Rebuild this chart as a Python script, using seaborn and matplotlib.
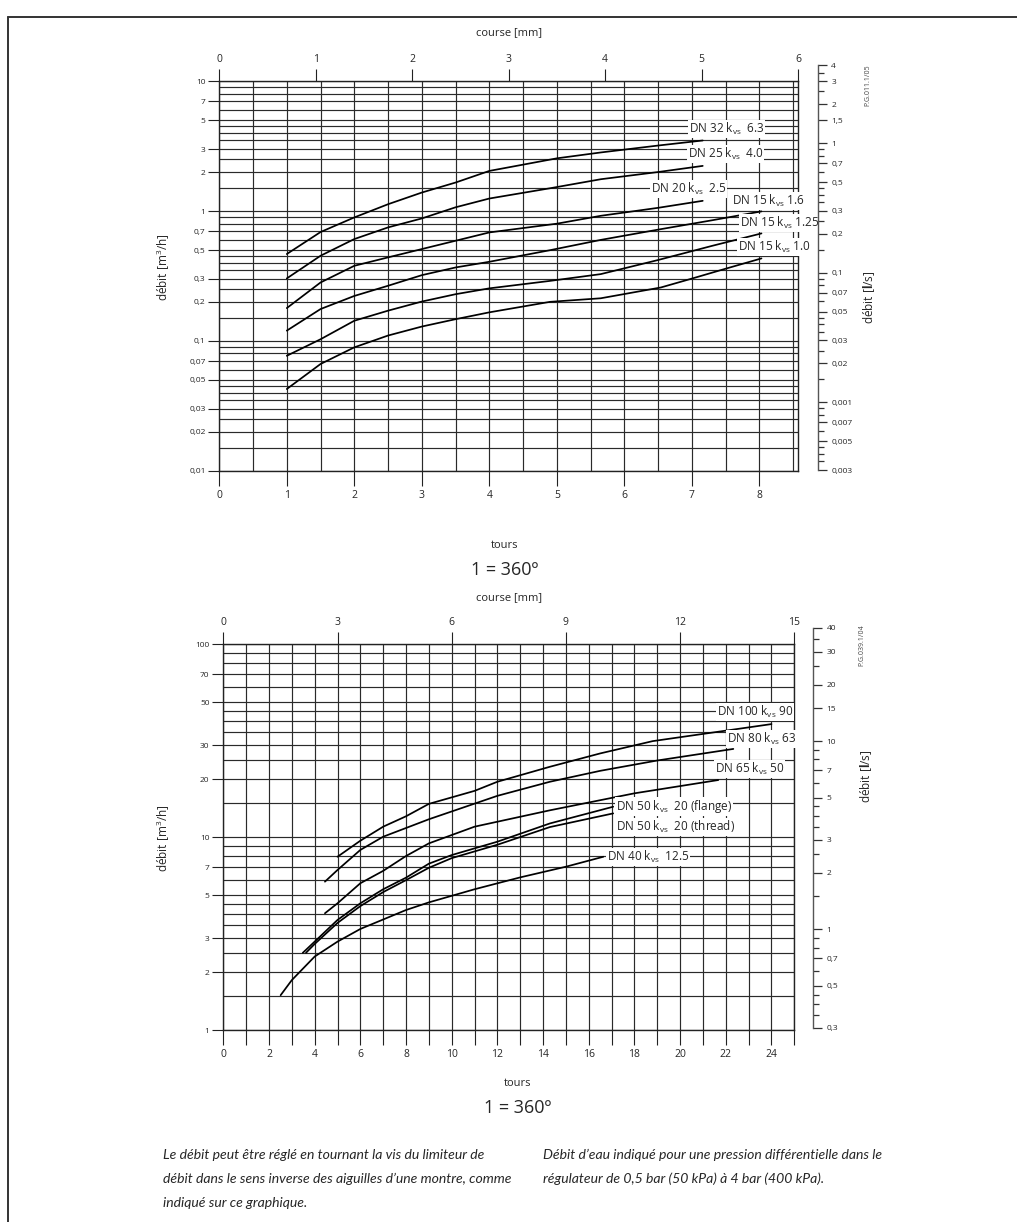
import numpy as np
import pandas as pd
import matplotlib.pyplot as plt
import matplotlib.ticker as mticker
from matplotlib.lines import Line2D
import seaborn as sns

# ---- top chart: DN 15 - DN 32, tours vs m3/h
dn32_t = [1, 1.5, 2, 2.5, 3, 3.5, 4, 4.5, 5, 5.65, 6.5, 7.16]
dn32_q = [0.467, 0.69, 0.894, 1.13, 1.39, 1.66, 2.04, 2.28, 2.55, 2.83, 3.2, 3.5]
dn25_t = [1, 1.5, 2, 2.5, 3, 3.5, 4, 4.9, 5.65, 6.5, 7.16]
dn25_q = [0.303, 0.453, 0.609, 0.749, 0.878, 1.07, 1.25, 1.5, 1.76, 2.0, 2.23]
dn20_t = [1, 1.5, 2, 2.5, 3, 4, 5, 5.65, 6.5, 7.16]
dn20_q = [0.179, 0.282, 0.379, 0.44, 0.51, 0.685, 0.8, 0.92, 1.06, 1.2]
dn15a_t = [1, 1.5, 2, 2.5, 3, 3.5, 4, 4.9, 5.65, 6.5, 7.3, 8.03]
dn15a_q = [0.12, 0.176, 0.222, 0.266, 0.321, 0.368, 0.407, 0.5, 0.6, 0.72, 0.85, 0.995]
dn15b_t = [1, 1.5, 2, 2.5, 3, 3.5, 4, 4.9, 5.65, 6.5, 7.3, 8.03]
dn15b_q = [0.0768, 0.103, 0.143, 0.171, 0.201, 0.229, 0.254, 0.29, 0.327, 0.42, 0.54, 0.673]
dn15c_t = [1, 1.5, 2, 2.5, 3, 3.5, 4, 4.9, 5.65, 6.54, 6.98, 7.5, 8.03]
dn15c_q = [0.0426, 0.0664, 0.0892, 0.11, 0.129, 0.147, 0.166, 0.2, 0.213, 0.258, 0.3, 0.36, 0.432]

top_labels = ['DN 32 k$_\\mathregular{vs}$  6.3', 'DN 25 k$_\\mathregular{vs}$  4.0',
              'DN 20 k$_\\mathregular{vs}$  2.5', 'DN 15 k$_\\mathregular{vs}$ 1.6',
              'DN 15 k$_\\mathregular{vs}$ 1.25', 'DN 15 k$_\\mathregular{vs}$ 1.0']
top_label_x = [6.95, 6.94, 6.39, 7.59, 7.71, 7.68]
top_label_y = [4.28, 2.75, 1.48, 1.194, 0.808, 0.528]

# ---- bottom chart: DN 40 - DN 100
dn100_t = [5, 6, 7, 8, 9, 11, 12, 14.3, 16.5, 18.8, 21.5, 24]
dn100_q = [7.93, 9.6, 11.35, 12.85, 14.9, 17.4, 19.4, 23.2, 27.2, 31.5, 35.0, 38.6]
dn80_t = [4.45, 5, 6, 7, 9, 12, 14.3, 16.5, 19, 22.33]
dn80_q = [5.89, 6.77, 8.6, 10.07, 12.4, 16.4, 19.4, 22.1, 25.0, 28.7]
dn65_t = [4.45, 5, 6, 7, 8, 9, 11, 14.3, 18, 21.67]
dn65_q = [4.04, 4.55, 5.78, 6.7, 8.0, 9.3, 11.35, 13.8, 16.9, 19.8]
dn50f_t = [3.48, 4, 5, 6, 7, 8, 9, 10, 12, 14.3, 17.07]
dn50f_q = [2.52, 2.88, 3.73, 4.55, 5.38, 6.18, 7.3, 8.09, 9.49, 11.8, 14.4]
dn50t_t = [3.62, 4, 5, 6, 7, 8, 9, 10, 12, 14.3, 17.07]
dn50t_q = [2.52, 2.8, 3.6, 4.4, 5.2, 6.0, 6.95, 7.8, 9.15, 11.3, 13.3]
dn40_t = [2.51, 3, 4, 5, 6, 8, 9, 11, 13, 15, 16.64]
dn40_q = [1.52, 1.82, 2.41, 2.88, 3.35, 4.2, 4.6, 5.38, 6.2, 7.04, 7.93]

bot_labels = ['DN 100 k$_\\mathregular{vs}$ 90', 'DN 80 k$_\\mathregular{vs}$ 63',
              'DN 65 k$_\\mathregular{vs}$ 50', 'DN 50 k$_\\mathregular{vs}$  20 (flange)',
              'DN 50 k$_\\mathregular{vs}$  20 (thread)', 'DN 40 k$_\\mathregular{vs}$  12.5']
bot_label_x = [21.6, 22.04, 21.53, 17.18, 17.18, 16.8]
bot_label_y = [44.7, 32.3, 22.6, 14.4, 11.35, 7.93]

# axis ticks
top_left_vals = [10, 7, 5, 3, 2, 1, 0.7, 0.5, 0.3, 0.2, 0.1, 0.07, 0.05, 0.03, 0.02, 0.01]
top_left_txt = ['10', '7', '5', '3', '2', '1', '0,7', '0,5', '0,3', '0,2', '0,1',
                '0,07', '0,05', '0,03', '0,02', '0,01']
top_right_vals = [4, 3, 2, 1.5, 1, 0.7, 0.5, 0.3, 0.2, 0.1, 0.07, 0.05, 0.03, 0.02,
                  0.01, 0.007, 0.005, 0.003]
top_right_txt = ['4', '3', '2', '1,5', '1', '0,7', '0,5', '0,3', '0,2', '0,1', '0,07',
                 '0,05', '0,03', '0,02', '0,001', '0,007', '0,005', '0,003']
top_right_minor = [3.5, 2.5, 0.9, 0.8, 0.6, 0.45, 0.4, 0.35, 0.25, 0.15, 0.09, 0.08, 0.06,
                   0.045, 0.04, 0.035, 0.025, 0.015, 0.009, 0.008, 0.006, 0.0045, 0.004, 0.0035]
bot_left_vals = [100, 70, 50, 30, 20, 10, 7, 5, 3, 2, 1]
bot_left_txt = ['100', '70', '50', '30', '20', '10', '7', '5', '3', '2', '1']
bot_right_vals = [40, 30, 20, 15, 10, 7, 5, 3, 2, 1, 0.7, 0.5, 0.3]
bot_right_txt = ['40', '30', '20', '15', '10', '7', '5', '3', '2', '1', '0,7', '0,5', '0,3']
bot_right_minor = [35, 25, 9, 8, 6, 4.5, 4, 3.5, 2.5, 1.5, 0.9, 0.8, 0.6, 0.45, 0.4, 0.35]

grid_mult = [1, 1.5, 2, 2.5, 3, 3.5, 4, 4.5, 5, 6, 7, 8, 9]


def to_long(curves):
    rows = []
    for name, t, q in curves:
        for a, b in zip(t, q):
            rows.append((name, a, b))
    return pd.DataFrame(rows, columns=['curve', 'tours', 'debit'])


top_df = to_long([('dn32', dn32_t, dn32_q), ('dn25', dn25_t, dn25_q), ('dn20', dn20_t, dn20_q),
                  ('dn15a', dn15a_t, dn15a_q), ('dn15b', dn15b_t, dn15b_q), ('dn15c', dn15c_t, dn15c_q)])
bot_df = to_long([('dn100', dn100_t, dn100_q), ('dn80', dn80_t, dn80_q), ('dn65', dn65_t, dn65_q),
                  ('dn50f', dn50f_t, dn50f_q), ('dn50t', dn50t_t, dn50t_q), ('dn40', dn40_t, dn40_q)])

sns.set_theme(style='white')
plt.rcParams['font.family'] = ['Open Sans', 'DejaVu Sans']
plt.rcParams['mathtext.fontset'] = 'custom'
plt.rcParams['mathtext.rm'] = 'Open Sans'
plt.rcParams['mathtext.bf'] = 'Open Sans:bold'

W, H = 1017, 1222
fig = plt.figure(figsize=(W / 100, H / 100), dpi=100)


def box(l, t, r, b):
    return [l / W, 1 - b / H, (r - l) / W, (b - t) / H]


def px(v):
    return v * 0.72


def chart(rect, df, xmax, ymin, ymax, ytick_vals, ytick_txt, xstep, xlabel_every, mm_per_turn,
          mm_ticks, labels, lx, ly):
    ax = fig.add_axes(rect)
    sns.lineplot(data=df, x='tours', y='debit', units='curve', estimator=None, sort=False,
                 color='black', lw=1.25, ax=ax, legend=False)
    ax.set_yscale('log')
    ax.set_xlim(0, xmax)
    ax.set_ylim(ymin, ymax)
    dec = 10.0 ** np.arange(np.floor(np.log10(ymin)), np.ceil(np.log10(ymax)))
    gv = [d * m for d in dec for m in grid_mult if ymin <= d * m <= ymax]
    ax.yaxis.set_major_locator(mticker.FixedLocator(ytick_vals))
    ax.yaxis.set_major_formatter(mticker.FixedFormatter(ytick_txt))
    ax.yaxis.set_minor_locator(mticker.FixedLocator(gv))
    ax.yaxis.set_minor_formatter(mticker.NullFormatter())
    xt = list(range(0, int(xmax) + 1))
    ax.xaxis.set_major_locator(mticker.FixedLocator(xt))
    ax.xaxis.set_major_formatter(mticker.FixedFormatter(
        [str(v) if v % xlabel_every == 0 else '' for v in xt]))
    ax.xaxis.set_minor_locator(mticker.FixedLocator(np.arange(xstep, xmax, xstep)))
    ax.grid(True, which='both', color='#2a2a2a', lw=0.85)
    ax.tick_params(axis='y', which='major', length=px(11), width=0.8, color='#222',
                   labelsize=6, pad=2, left=True)
    ax.tick_params(axis='x', which='major', length=px(15), width=0.8, color='#222',
                   labelsize=7.5, pad=3, bottom=True)
    ax.tick_params(which='minor', length=0)
    for s in ax.spines.values():
        s.set_color('#222')
        s.set_linewidth(1.0)
    ax.set_xlabel('')
    ax.set_ylabel('')
    sec = ax.secondary_xaxis('top', functions=(lambda t: t * mm_per_turn, lambda m: m / mm_per_turn))
    sec.set_xticks(mm_ticks)
    sec.set_xticklabels([str(v) for v in mm_ticks])
    sec.tick_params(length=px(12), width=0.8, color='#222', labelsize=7.5, pad=3)
    sec.spines['top'].set_visible(False)
    for text, x, y in zip(labels, lx, ly):
        ax.text(x, y, text, fontsize=8.5, ha='left', va='center',
                bbox=dict(facecolor='white', edgecolor='none', pad=0.6))
    return ax


def scale(rect, vmin, vmax, vals, txt, minor):
    rax = fig.add_axes(rect)
    rax.patch.set_visible(False)
    for k in ['left', 'top', 'bottom']:
        rax.spines[k].set_visible(False)
    rax.spines['right'].set_color('#555')
    rax.spines['right'].set_linewidth(1.0)
    rax.set_yscale('log')
    rax.set_ylim(vmin, vmax)
    rax.set_xticks([])
    rax.yaxis.tick_right()
    rax.yaxis.set_major_locator(mticker.FixedLocator(vals))
    rax.yaxis.set_major_formatter(mticker.FixedFormatter(txt))
    rax.yaxis.set_minor_locator(mticker.FixedLocator(minor))
    rax.yaxis.set_minor_formatter(mticker.NullFormatter())
    rax.tick_params(axis='y', which='major', length=px(9), width=0.9, color='#333',
                    labelsize=6, pad=3, right=True)
    rax.tick_params(axis='y', which='minor', length=px(6), width=0.9, color='#333', right=True)
    return rax


chart(box(219.3, 81.3, 798, 470.7), top_df, 6 / 0.7, 0.01, 10, top_left_vals, top_left_txt,
      0.5, 1, 0.7, list(range(7)), top_labels, top_label_x, top_label_y)
scale(box(812, 65, 818, 470), 0.003, 4, top_right_vals, top_right_txt, top_right_minor)

chart(box(223.3, 644.3, 794.3, 1030.3), bot_df, 25, 1, 100, bot_left_vals, bot_left_txt,
      1, 2, 0.6, [0, 3, 6, 9, 12, 15], bot_labels, bot_label_x, bot_label_y)
scale(box(807, 628, 813.3, 1027.7), 0.3, 40, bot_right_vals, bot_right_txt, bot_right_minor)


def ftext(x, y, s, **kw):
    fig.text(x / W, 1 - y / H, s, **kw)


ftext(509, 33, 'course [mm]', fontsize=8, ha='center', va='center')
ftext(163, 267, 'débit [m$^\\mathregular{3}$/h]', fontsize=8.5, rotation=90, ha='center', va='center')
ftext(869, 297, 'débit [$\\mathbf{l}$/s]', fontsize=8.5, rotation=90, ha='center', va='center')
ftext(868, 85, 'P.G.011.1/05', fontsize=5, rotation=90, ha='center', va='center', color='#444')
ftext(505, 545, 'tours', fontsize=8, ha='center', va='center')
ftext(505, 570, '1 = 360º', fontsize=13, ha='center', va='center')

ftext(509, 598, 'course [mm]', fontsize=8, ha='center', va='center')
ftext(163, 838, 'débit [m$^\\mathregular{3}$/h]', fontsize=8.5, rotation=90, ha='center', va='center')
ftext(866, 776, 'débit [$\\mathbf{l}$/s]', fontsize=8.5, rotation=90, ha='center', va='center')
ftext(862, 645, 'P.G.039.1/04', fontsize=5, rotation=90, ha='center', va='center', color='#444')
ftext(518, 1083, 'tours', fontsize=8, ha='center', va='center')
ftext(518, 1108, '1 = 360º', fontsize=13, ha='center', va='center')

foot = dict(fontsize=10.1, style='italic', ha='left', va='center',
            family=['Lato', 'Open Sans'])
ftext(163, 1155, 'Le débit peut être réglé en tournant la vis du limiteur de', **foot)
ftext(163, 1179, 'débit dans le sens inverse des aiguilles d\u2019une montre, comme', **foot)
ftext(163, 1203, 'indiqué sur ce graphique.', **foot)
ftext(543, 1155, 'Débit d\u2019eau indiqué pour une pression différentielle dans le', **foot)
ftext(543, 1179, 'régulateur de 0,5 bar (50 kPa) à 4 bar (400 kPa).', **foot)

# page frame
fig.add_artist(Line2D([8 / W, 8 / W], [0, 1 - 17 / H], transform=fig.transFigure, color='#333', lw=1.4))
fig.add_artist(Line2D([8 / W, 1], [1 - 17 / H, 1 - 17 / H], transform=fig.transFigure, color='#333', lw=1.4))

fig.savefig('out.png', dpi=100)
